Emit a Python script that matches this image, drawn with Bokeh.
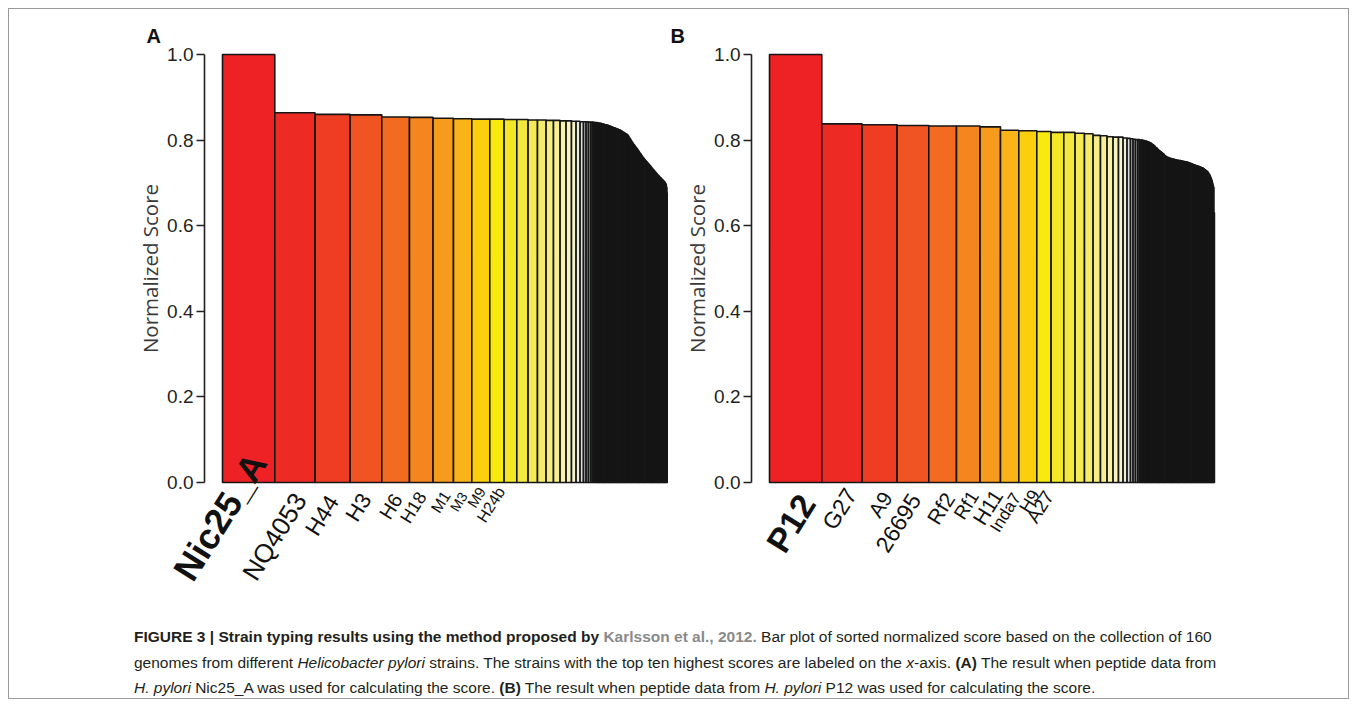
from bokeh.plotting import figure
from bokeh.models import Range1d, Label, Div, FixedTicker, PrintfTickFormatter, ColumnDataSource
from bokeh.layouts import column, row
from bokeh.embed import file_html
from bokeh.resources import INLINE

# ---------------- data ----------------
Y_TICKS = [0.0, 0.2, 0.4, 0.6, 0.8, 1.0]

LABELS_A = ["Nic25_A", "NQ4053", "H44", "H3", "H6", "H18", "M1", "M3", "M9", "H24b"]
SCORES_A = [
    1.000, 0.864, 0.860, 0.859, 0.854, 0.853, 0.851, 0.850, 0.849, 0.849,
    0.848, 0.848, 0.847, 0.847, 0.846, 0.846, 0.845, 0.845, 0.844, 0.844,
    0.843, 0.843, 0.843, 0.842, 0.842, 0.842, 0.841, 0.841, 0.841, 0.841,
    0.840, 0.840, 0.840, 0.840, 0.839, 0.839, 0.839, 0.839, 0.838, 0.838,
    0.838, 0.837, 0.837, 0.837, 0.836, 0.836, 0.836, 0.835, 0.835, 0.835,
    0.834, 0.834, 0.833, 0.833, 0.832, 0.832, 0.831, 0.831, 0.830, 0.830,
    0.829, 0.829, 0.828, 0.828, 0.827, 0.827, 0.826, 0.826, 0.825, 0.825,
    0.824, 0.824, 0.823, 0.823, 0.822, 0.821, 0.820, 0.819, 0.818, 0.818,
    0.817, 0.816, 0.815, 0.814, 0.814, 0.813, 0.812, 0.810, 0.808, 0.806,
    0.804, 0.802, 0.800, 0.798, 0.796, 0.794, 0.792, 0.790, 0.789, 0.787,
    0.785, 0.784, 0.782, 0.780, 0.779, 0.777, 0.775, 0.773, 0.771, 0.769,
    0.768, 0.766, 0.764, 0.762, 0.760, 0.759, 0.757, 0.756, 0.754, 0.753,
    0.751, 0.750, 0.748, 0.747, 0.745, 0.744, 0.742, 0.741, 0.740, 0.738,
    0.736, 0.735, 0.733, 0.732, 0.730, 0.729, 0.727, 0.726, 0.724, 0.723,
    0.721, 0.720, 0.718, 0.717, 0.716, 0.714, 0.713, 0.712, 0.711, 0.709,
    0.708, 0.707, 0.705, 0.704, 0.703, 0.701, 0.699, 0.696, 0.690, 0.676,
]

LABELS_B = ["P12", "G27", "A9", "26695", "Rf2", "Rf1", "H11", "Inda7", "H9", "A27"]
SCORES_B = [
    1.000, 0.838, 0.836, 0.834, 0.833, 0.833, 0.831, 0.823, 0.822, 0.820,
    0.818, 0.818, 0.816, 0.815, 0.811, 0.810, 0.808, 0.807, 0.807, 0.805,
    0.804, 0.803, 0.802, 0.801, 0.801, 0.800, 0.800, 0.800, 0.799, 0.799,
    0.799, 0.798, 0.798, 0.798, 0.797, 0.797, 0.796, 0.796, 0.795, 0.795,
    0.794, 0.793, 0.793, 0.792, 0.791, 0.790, 0.789, 0.788, 0.787, 0.786,
    0.784, 0.783, 0.782, 0.781, 0.780, 0.778, 0.777, 0.776, 0.775, 0.774,
    0.773, 0.772, 0.771, 0.770, 0.769, 0.768, 0.767, 0.765, 0.764, 0.763,
    0.762, 0.761, 0.760, 0.760, 0.759, 0.759, 0.758, 0.758, 0.757, 0.757,
    0.757, 0.756, 0.756, 0.756, 0.755, 0.755, 0.755, 0.754, 0.754, 0.754,
    0.753, 0.753, 0.753, 0.753, 0.752, 0.752, 0.752, 0.752, 0.751, 0.751,
    0.751, 0.751, 0.750, 0.750, 0.750, 0.750, 0.749, 0.749, 0.749, 0.749,
    0.748, 0.748, 0.747, 0.747, 0.746, 0.746, 0.745, 0.745, 0.744, 0.744,
    0.743, 0.743, 0.742, 0.742, 0.741, 0.741, 0.740, 0.740, 0.740, 0.739,
    0.739, 0.738, 0.738, 0.737, 0.737, 0.736, 0.736, 0.735, 0.735, 0.734,
    0.733, 0.732, 0.731, 0.730, 0.729, 0.728, 0.727, 0.726, 0.724, 0.722,
    0.720, 0.718, 0.715, 0.712, 0.709, 0.705, 0.700, 0.695, 0.690, 0.630,
]

# ---------------- styles ----------------
# bar widths in px (the top-ranked strains are drawn wider)
BAR_W = ([52.3, 40.3, 35.0, 31.7, 27.7, 23.6, 20.4, 18.3, 18.0, 14.3,
          12.7, 11.3, 9.4, 8.6, 7.4, 6.6, 6.0, 5.4, 4.6, 4.0,
          3.4, 2.6, 2.4, 2.3, 1.8, 1.4, 1.1, 0.9, 0.7] + [0.54] * 131)
BAR_FILL = (["#EE2125", "#EE2A25", "#EF3D24", "#F05423", "#F26B21", "#F5861F",
             "#F79B1C", "#FAB318", "#FCCF0E", "#F8EA0F", "#F4E826", "#F3E83E",
             "#F4EA56", "#F5EC6C", "#F6EE82", "#F7EF95", "#F8F2A8", "#F9F4BA",
             "#F5F2CC", "#EEEEDB", "#DCDCDC", "#C4C4C4", "#ABABAB", "#939393",
             "#7A7A7A", "#626262", "#4A4A4A", "#333333", "#1E1E1E"] + ["#070707"] * 131)
INK = "#231F20"
FONT = "Liberation Sans"
LABEL_ANGLE = 58

GAP = 18.0            # px between axis line and first bar
FIG_H = 603           # figure height in px
PX_PER_UNIT = 428.0   # vertical px for a score of 1.0
TOP_PX = 45           # px above score 1.0
BOTTOM_PX = FIG_H - TOP_PX - PX_PER_UNIT

# per label: font size, bold, dx from bar right edge (px), y offset (px, + is up)
LAB_STYLE_A = [(36, True, -17, 26), (26, False, -15, -13), (23, False, -17, -15),
               (22, False, -16, -13), (20, False, -12, -13), (18, False, -11, -11),
               (16, False, -7, -10), (14, False, -8, -11), (15, False, -8, -6),
               (16, False, -3, -6)]
LAB_STYLE_B = [(34, True, -15, -15), (23, False, -11, -8), (21, False, -10, -11),
               (23, False, -14, -13), (21, False, -7, -12), (19, False, -6, -10),
               (21, False, -3, -9), (17, False, -2, -12), (18, False, -1, -9),
               (19, False, -2, -10)]


def make_panel(scores, labels, lab_style, letter, letter_dx, fig_w, left_px):
    lefts, rights = [], []
    x = 0.0
    for w in BAR_W:
        lefts.append(x)
        x += w
        rights.append(x)
    src = ColumnDataSource(dict(left=lefts, right=rights, top=scores,
                                bottom=[0.0] * len(scores), fill=BAR_FILL))
    p = figure(width=fig_w, height=FIG_H,
               min_border_left=0, min_border_right=0,
               min_border_top=0, min_border_bottom=0,
               x_range=Range1d(-left_px, fig_w - left_px),
               y_range=Range1d(-BOTTOM_PX / PX_PER_UNIT, 1.0 + TOP_PX / PX_PER_UNIT),
               output_backend="svg", toolbar_location=None,
               x_axis_location=None, y_axis_location="left")
    p.outline_line_color = None
    p.grid.grid_line_color = None
    p.background_fill_color = "white"
    p.border_fill_color = "white"

    p.quad(left="left", right="right", top="top", bottom="bottom", source=src,
           fill_color="fill", line_color="#161616", line_width=1.6)

    ax = p.yaxis[0]
    ax.fixed_location = -GAP
    ax.bounds = (0.0, 1.0)
    ax.ticker = FixedTicker(ticks=Y_TICKS)
    ax.formatter = PrintfTickFormatter(format="%.1f")
    ax.axis_line_color = INK
    ax.axis_line_width = 1.6
    ax.major_tick_line_color = INK
    ax.major_tick_line_width = 1.6
    ax.major_tick_out = 8
    ax.major_tick_in = 0
    ax.minor_tick_line_color = None
    ax.major_label_text_font = FONT
    ax.major_label_text_font_size = "19px"
    ax.major_label_text_color = INK
    ax.major_label_standoff = 3
    ax.axis_label = "Normalized Score"
    ax.axis_label_text_font = "Open Sans"
    ax.axis_label_text_font_size = "20.5px"
    ax.axis_label_text_font_style = "normal"
    ax.axis_label_text_color = "#3a3a3a"
    ax.axis_label_standoff = 0

    for i, lab in enumerate(labels):
        size, bold, dx, dy = lab_style[i]
        p.add_layout(Label(x=rights[i], y=0.0, x_offset=dx, y_offset=dy,
                           text=lab, angle=LABEL_ANGLE, angle_units="deg",
                           text_align="right", text_baseline="alphabetic",
                           text_font=FONT, text_font_size=f"{size}px",
                           text_font_style="bold" if bold else "normal",
                           text_color="#111111"))

    p.add_layout(Label(x=-GAP, y=1.0, x_offset=letter_dx, y_offset=19, text=letter,
                       text_align="left", text_baseline="alphabetic",
                       text_font=FONT, text_font_size="20px", text_font_style="bold",
                       text_color="#111111"))
    return p


pa = make_panel(SCORES_A, LABELS_A, LAB_STYLE_A, "A", -58, 659, 213)
pb = make_panel(SCORES_B, LABELS_B, LAB_STYLE_B, "B", -81, 680, 101)

caption_html = (
    "<b>FIGURE 3 | Strain typing results using the method proposed by "
    "<span style='color:#8a8a8a'>Karlsson et al., 2012.</span></b> "
    "Bar plot of sorted normalized score based on the collection of 160<br>"
    "genomes from different <i>Helicobacter pylori</i> strains. The strains with the top ten "
    "highest scores are labeled on the <i>x</i>-axis. <b>(A)</b> The result when peptide data from<br>"
    "<i>H. pylori</i> Nic25_A was used for calculating the score. <b>(B)</b> The result when "
    "peptide data from <i>H. pylori</i> P12 was used for calculating the score."
)
caption = Div(text=caption_html, width=1339, height=86,
              styles={"font-family": "Liberation Sans", "font-size": "15.5px",
                      "line-height": "25.5px", "color": INK, "white-space": "nowrap",
                      "padding-left": "120px", "padding-top": "7px",
                      "box-sizing": "border-box"})

layout = column(row(pa, pb), caption, width=1341, height=691, sizing_mode="fixed",
                styles={"border": "1px solid #9a9a9a", "margin": "8px",
                        "box-sizing": "border-box"})

open("out.html", "w").write(file_html(layout, INLINE, title="Figure 3"))
